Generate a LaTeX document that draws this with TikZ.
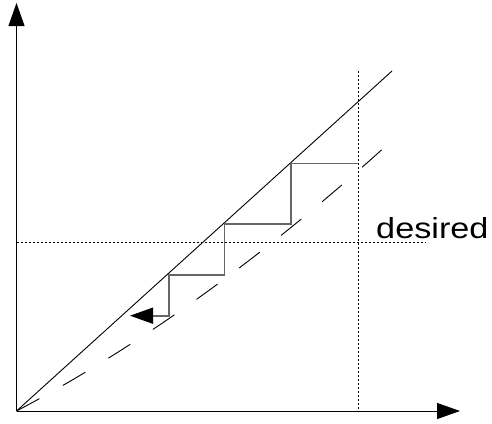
\documentclass[tikz,border=0pt]{standalone}
\usepackage{fontspec}
\setmainfont{Liberation Sans}
\usepackage{tikz}
\usetikzlibrary{arrows.meta,positioning}

\begin{document}
\begin{tikzpicture}[x=1pt, y=-1pt,
  fatarrow/.style={-{Triangle[length=23pt,width=16pt,color=black]}},
  dotline/.style={line width=0.9pt, dash pattern=on 2pt off 2pt},
  stair/.style={line width=1.6pt, draw=black!60}]
\useasboundingbox (0,0) rectangle (492,423);
\coordinate (o) at (16.5,411);
\coordinate (ytop) at (16.5,3);
\coordinate (xend) at (460,411);
\coordinate (ideal) at (392,71);
\coordinate (real) at (391.7,140.7);
\coordinate (vtop) at (358.3,71);
\coordinate (vbot) at (358.3,411);
\coordinate (hl) at (16.5,242);
\coordinate (hr) at (425,242);
% axes
\draw[fatarrow, line width=1pt] (o) -- (ytop);
\draw[fatarrow, line width=1pt] (o) -- (xend);
% dotted guides
\draw[dotline] (vtop) -- (vbot);
\draw[dotline] (hl) -- (hr);
\node[anchor=base west, inner sep=0pt, xscale=1.18, font=\fontsize{29}{30}\selectfont] (desired) at (376,238.3) {desired};
% ideal and real response
\draw[line width=0.9pt] (o) -- (ideal);
\draw[line width=0.9pt, dash pattern=on 26pt off 27pt] (o) .. controls (141.3,345.1) and (266.5,255) .. (real);
% staircase
\draw[stair, fatarrow] (358.3,163.3) -- (290.7,163.3) -- (290.7,224) -- (224.3,224)
  -- (224.3,275) -- (169,275) -- (169,315.7) -- (130,315.7);
\end{tikzpicture}
\end{document}
